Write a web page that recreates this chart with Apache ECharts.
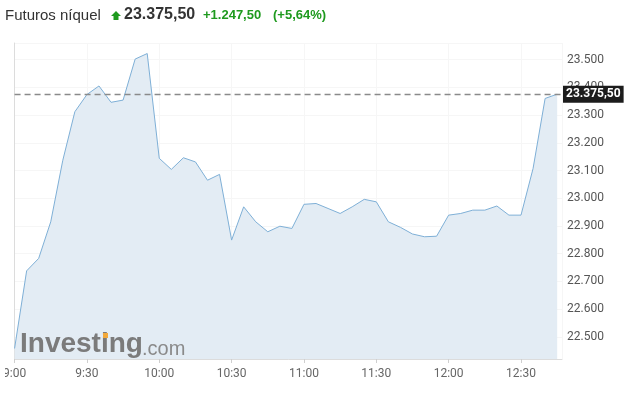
<!DOCTYPE html>
<html>
<head>
<meta charset="utf-8">
<script src="https://cdn.jsdelivr.net/npm/echarts@6/dist/echarts.min.js"></script>
<style>
  html, body { margin: 0; padding: 0; background: #fff; }
  #main { width: 625px; height: 401px; }
</style>
</head>
<body>
<div id="main"></div>
<script>
// minutes after 9:00, one point every 5 min
var minutes = [0, 5, 10, 15, 20, 25, 30, 35, 40, 45, 50, 55,
  60, 65, 70, 75, 80, 85, 90, 95, 100, 105, 110, 115,
  120, 125, 130, 135, 140, 145, 150, 155, 160, 165, 170, 175,
  180, 185, 190, 195, 200, 205, 210, 215, 220, 225];
var prices = [22458, 22738, 22783, 22915, 23137, 23312, 23374, 23405, 23346, 23354, 23502, 23522,
  23144, 23104, 23146, 23131, 23065, 23086, 22849, 22969, 22915, 22879, 22899, 22891,
  22978, 22981, 22963, 22945, 22969, 22996, 22987, 22915, 22895, 22871, 22861, 22863,
  22939, 22945, 22957, 22957, 22972, 22939, 22939, 23107, 23360, 23375.5];
var xTickLabels = ["9:00", "9:30", "10:00", "10:30", "11:00", "11:30", "12:00", "12:30"];
var lastPrice = 23375.5;

function fmtThousands(v, dec) {
  var s = v.toFixed(dec).split(".");
  var i = s[0].replace(/\B(?=(\d{3})+(?!\d))/g, ".");
  return dec ? i + "," + s[1] : i;
}

var seriesData = minutes.map(function (m, i) { return [m, prices[i]]; });

var chart = echarts.init(document.getElementById("main"));
var option = {
  backgroundColor: "#fff",
  animation: false,
  grid: { left: 11, right: 63, top: 43, bottom: 42 },
  xAxis: {
    type: "value",
    min: 0,
    max: 227,
    interval: 30,
    axisLine: { show: true, lineStyle: { color: "#dcdcdc" } },
    axisTick: { show: true, length: 4, lineStyle: { color: "#cfcfcf" } },
    axisLabel: {
      color: "#666",
      fontFamily: "Roboto",
      fontSize: 12,
      margin: 9,
      showMaxLabel: false,
      formatter: function (v) {
        if (v % 30 !== 0) return "";
        return xTickLabels[v / 30] || "";
      }
    },
    splitLine: { show: true, lineStyle: { color: "#f6f6f6" } }
  },
  yAxis: {
    type: "value",
    position: "right",
    min: 22420,
    max: 23560,
    minInterval: 100,
    maxInterval: 100,
    axisLine: { show: true, lineStyle: { color: "#dcdcdc" } },
    axisTick: { show: false },
    axisLabel: {
      color: "#555",
      fontFamily: "Roboto",
      fontSize: 12,
      margin: 5,
      formatter: function (v) {
        if (Math.round(v) % 100 !== 0) return "";
        return fmtThousands(v, 0);
      }
    },
    splitLine: { show: true, lineStyle: { color: "#f6f6f6" } }
  },
  series: [
    {
      type: "line",
      data: seriesData,
      showSymbol: false,
      lineStyle: { color: "#7eafd6", width: 1 },
      areaStyle: { color: "#e3ecf4", opacity: 1, origin: "start" },
      markLine: {
        silent: true,
        symbol: "none",
        lineStyle: { color: "#8a8a8a", type: [6, 4], width: 1.3 },
        label: {
          position: "end",
          distance: 1,
          color: "#fff",
          fontWeight: "bold",
          fontFamily: "Roboto",
          fontSize: 12,
          backgroundColor: "#1c1c1c",
          padding: [3, 3, 2, 3],
          formatter: function (p) { return fmtThousands(p.value, 2); }
        },
        data: [{ yAxis: lastPrice }]
      }
    }
  ],
  graphic: [
    {
      type: "text", left: 5, top: 8,
      style: { text: "Futuros níquel", fill: "#333", font: "15px 'Liberation Sans', Arial" }
    },
    {
      type: "polygon",
      shape: { points: [[116, 11], [121, 16], [118.5, 16], [118.5, 20], [113.5, 20], [113.5, 16], [111, 16]] },
      style: { fill: "#1f9a1f" }
    },
    {
      type: "text", left: 124, top: 7,
      style: { text: "23.375,50", fill: "#333", font: "bold 16px 'Liberation Sans', Arial" }
    },
    {
      type: "text", left: 203, top: 9,
      style: { text: "+1.247,50", fill: "#1f9a1f", font: "bold 13px 'Liberation Sans', Arial" }
    },
    {
      type: "text", left: 273, top: 9,
      style: { text: "(+5,64%)", fill: "#1f9a1f", font: "bold 13px 'Liberation Sans', Arial" }
    },
    {
      type: "text", left: 20, top: 330, z: 100,
      style: { text: "Investing", fill: "#7b7b7b", font: "bold 28px 'Liberation Sans', Arial" }
    },
    {
      type: "text", left: 142, top: 339, z: 100,
      style: { text: ".com", fill: "#8a8a8a", font: "20px 'Liberation Sans', Arial" }
    },
    {
      type: "rect", z: 101,
      shape: { x: 103, y: 333, width: 5, height: 5 },
      style: { fill: "#f2a93b" }
    },
    {
      // left edge crop of the first time label, as in the source
      type: "rect", z: 102,
      shape: { x: 0, y: 362, width: 5, height: 22 },
      style: { fill: "#fff" }
    }
  ]
};
chart.setOption(option);
</script>
</body>
</html>
